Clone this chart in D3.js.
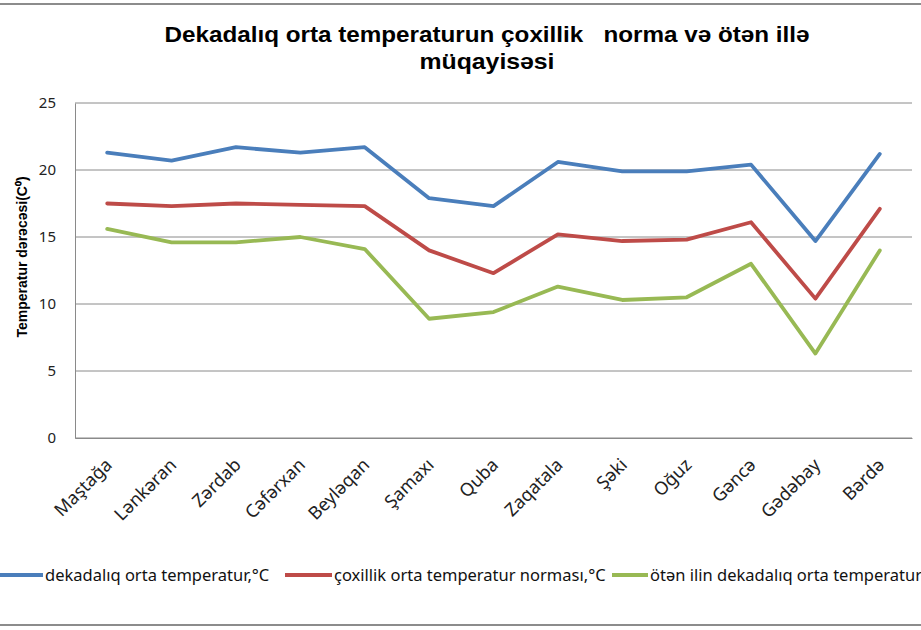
<!DOCTYPE html>
<html>
<head>
<meta charset="utf-8">
<script src="https://cdn.jsdelivr.net/npm/d3@7"></script>
<style>
  body { margin: 0; background: #fff; }
  svg { display: block; }
</style>
</head>
<body>
<div id="chart"></div>
<script>
// chart data
const stations = ['Maştağa', 'Lənkəran', 'Zərdab', 'Cəfərxan', 'Beyləqan', 'Şamaxı', 'Quba',
  'Zaqatala', 'Şəki', 'Oğuz', 'Gəncə', 'Gədəbay', 'Bərdə'];
const dekadaTemp = [21.3, 20.7, 21.7, 21.3, 21.7, 17.9, 17.3, 20.6, 19.9, 19.9, 20.4, 14.7, 21.2];
const normaTemp = [17.5, 17.3, 17.5, 17.4, 17.3, 14.0, 12.3, 15.2, 14.7, 14.8, 16.1, 10.4, 17.1];
const lastYearTemp = [15.6, 14.6, 14.6, 15.0, 14.1, 8.9, 9.4, 11.3, 10.3, 10.5, 13.0, 6.3, 14.0];
const yTicks = [0, 5, 10, 15, 20, 25];
const seriesNames = ['dekadalıq orta temperatur,°C', 'çoxillik orta temperatur norması,°C',
  'ötən ilin dekadalıq orta temperaturu,°C'];
const seriesColors = ['#4a7ebb', '#be4b48', '#98b954'];

const W = 921, H = 630;
const margin = { left: 75, right: 9, top: 103, bottom: 192 };

const svg = d3.select('#chart').append('svg')
  .attr('width', W)
  .attr('height', H);

// outer frame lines (top + bottom)
svg.append('line').attr('x1', 0).attr('x2', W).attr('y1', 4).attr('y2', 4)
  .attr('stroke', '#8c8c8c').attr('stroke-width', 2);
svg.append('line').attr('x1', 0).attr('x2', W).attr('y1', 625).attr('y2', 625)
  .attr('stroke', '#8c8c8c').attr('stroke-width', 2);

const x = d3.scaleBand()
  .domain(stations)
  .range([margin.left, W - margin.right]);

const y = d3.scaleLinear()
  .domain([0, 25])
  .range([H - margin.bottom, margin.top]);

// gridlines
svg.append('g')
  .selectAll('line')
  .data(yTicks)
  .enter().append('line')
  .attr('x1', margin.left)
  .attr('x2', W - margin.right)
  .attr('y1', d => y(d))
  .attr('y2', d => y(d))
  .attr('stroke', '#8a8a8a')
  .attr('stroke-width', 1);

// y axis
const yAxis = svg.append('g')
  .attr('transform', 'translate(' + margin.left + ',0)')
  .call(d3.axisLeft(y).tickValues(yTicks).tickSize(0).tickPadding(19));
yAxis.select('.domain').attr('stroke', '#8a8a8a');
yAxis.selectAll('text')
  .attr('fill', '#222')
  .style('font-family', '"Noto Sans", sans-serif')
  .style('font-size', '15px');

// x axis
const xAxis = svg.append('g')
  .attr('transform', 'translate(0,' + y(0) + ')')
  .call(d3.axisBottom(x).tickSize(0).tickPadding(0));
xAxis.select('.domain').attr('stroke', '#8a8a8a');
xAxis.selectAll('text')
  .attr('fill', '#222')
  .style('font-family', '"Noto Sans", sans-serif')
  .style('font-size', '18px')
  .attr('text-anchor', 'end')
  .attr('dy', 0)
  .attr('transform', 'translate(6,28) rotate(-45)');

// lines
const line = d3.line()
  .x((d, i) => x(stations[i]) + x.bandwidth() / 2)
  .y(d => y(d));

[dekadaTemp, normaTemp, lastYearTemp].forEach(function(s, i) {
  svg.append('path')
    .datum(s)
    .attr('fill', 'none')
    .attr('stroke', seriesColors[i])
    .attr('stroke-width', 3.8)
    .attr('stroke-linejoin', 'round')
    .attr('stroke-linecap', 'round')
    .attr('d', line);
});

// title
const title = svg.append('text')
  .attr('x', 487)
  .attr('y', 42)
  .attr('text-anchor', 'middle')
  .style('font-family', '"Liberation Sans", Arial, sans-serif')
  .style('font-weight', 'bold')
  .style('font-size', '22px')
  .attr('fill', '#000');
title.append('tspan').attr('x', 487).style('white-space', 'pre')
  .attr('textLength', 645).attr('lengthAdjust', 'spacingAndGlyphs')
  .text('Dekadalıq orta temperaturun çoxillik   norma və ötən illə');
title.append('tspan').attr('x', 487).attr('dy', 27)
  .attr('textLength', 135).attr('lengthAdjust', 'spacingAndGlyphs')
  .text('müqayisəsi');

// y axis title
svg.append('text')
  .attr('transform', 'translate(27,257) rotate(-90)')
  .attr('text-anchor', 'middle')
  .style('font-family', '"Liberation Sans", Arial, sans-serif')
  .style('font-weight', 'bold')
  .style('font-size', '14px')
  .text('Temperatur dərəcəsi(C⁰)');

// legend (wider than the chart, clipped at both sides like the original)
const legendX = [-3, 285, 612];
const legendLineLen = [46, 47, 36];
const legend = svg.append('g');
seriesNames.forEach(function(name, i) {
  const g = legend.append('g').attr('transform', 'translate(' + legendX[i] + ',575)');
  g.append('line')
    .attr('x1', 0).attr('x2', legendLineLen[i])
    .attr('stroke', seriesColors[i])
    .attr('stroke-width', 4);
  g.append('text')
    .attr('x', legendLineLen[i] + 2)
    .attr('y', 6)
    .style('font-family', '"Noto Sans", sans-serif')
    .style('font-size', '16.5px')
    .attr('fill', '#111')
    .text(name);
});
</script>
</body>
</html>
